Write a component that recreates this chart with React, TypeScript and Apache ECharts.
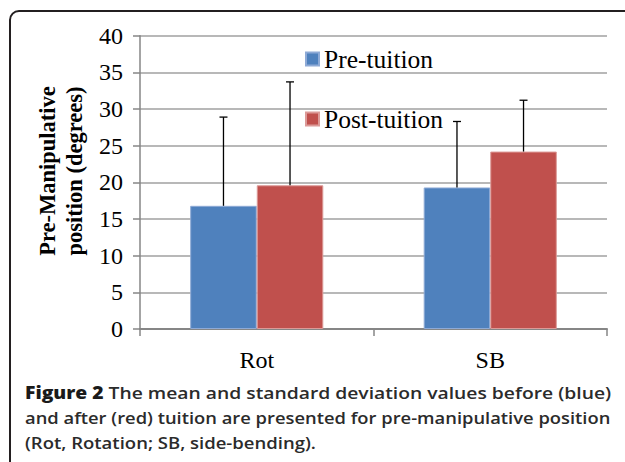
import React, { useEffect, useRef } from "react";
import * as echarts from "echarts";

const categories = ["Rot", "SB"];
const preMeans = [16.8, 19.3];
const preSD = [12.1, 9.0];
const postMeans = [19.6, 24.2];
const postSD = [14.1, 7.0];
const seriesNames = ["Pre-tuition", "Post-tuition"];
const yTitleLines = ["Pre-Manipulative", "position (degrees)"];
const captionLines = [
  "{b|Figure 2} The mean and standard deviation values before (blue)",
  "and after (red) tuition are presented for pre-manipulative position",
  "(Rot, Rotation; SB, side-bending).",
];

const BLUE = "#4f81bd";
const RED = "#c0504d";
const CAT_GAP = 0.43;
const CAPTION_STRETCH = [1.135, 1.08, 1.09];

function errorSeries(means: number[], sds: number[], side: number) {
  return {
    type: "custom",
    silent: true,
    z: 5,
    data: means.map((m, i) => [i, m, sds[i]]),
    encode: { x: 0, y: 1 },
    renderItem: (params: any, api: any) => {
      const i = api.value(0);
      const m = api.value(1);
      const s = api.value(2);
      const band = api.size([1, 0])[0];
      const off = (band * (1 - CAT_GAP)) / 4;
      const base = api.coord([i, m]);
      const top = api.coord([i, m + s]);
      const x = base[0] + side * off;
      const style = { stroke: "#000", lineWidth: 1.3 };
      return {
        type: "group",
        children: [
          { type: "line", shape: { x1: x, y1: base[1], x2: x, y2: top[1] }, style },
          { type: "line", shape: { x1: x - 4, y1: top[1], x2: x + 4, y2: top[1] }, style },
        ],
      };
    },
  };
}

export default function App() {
  const ref = useRef<HTMLDivElement>(null);
  useEffect(() => {
    if (!ref.current) return;
    const chart = echarts.init(ref.current, null, { renderer: "svg" });
    const serif = "Liberation Serif";
    const sans = "Open Sans";
    chart.setOption({
      animation: false,
      backgroundColor: "#fff",
      grid: { left: 140, right: 18, top: 35.7, bottom: 133 },
      legend: {
        orient: "vertical",
        left: 305,
        top: 46,
        padding: 0,
        itemWidth: 13,
        itemHeight: 13,
        itemGap: 34,
        icon: "rect",
        data: seriesNames,
        textStyle: { fontFamily: serif, fontSize: 25.5, color: "#000", lineHeight: 25 },
      },
      xAxis: {
        type: "category",
        data: categories,
        axisLine: { lineStyle: { color: "#868686", width: 2 } },
        axisTick: { show: true, length: 7, lineStyle: { color: "#868686", width: 1.5 } },
        axisLabel: { fontFamily: serif, fontSize: 24, color: "#000", margin: 19 },
      },
      yAxis: {
        type: "value",
        min: 0,
        max: 40,
        interval: 5,
        axisLine: { show: true, lineStyle: { color: "#868686", width: 1.5 } },
        axisTick: { show: true, length: 7, lineStyle: { color: "#868686", width: 1.5 } },
        axisLabel: { fontFamily: serif, fontSize: 24, color: "#000", margin: 17 },
        splitLine: { lineStyle: { color: "#a0a0a0", width: 1.5 } },
      },
      series: [
        {
          name: seriesNames[0],
          type: "bar",
          data: preMeans,
          barGap: "0%",
          barCategoryGap: CAT_GAP * 100 + "%",
          itemStyle: { color: BLUE, borderColor: "#8eaad6", borderWidth: 1 },
        },
        {
          name: seriesNames[1],
          type: "bar",
          data: postMeans,
          barGap: "0%",
          barCategoryGap: CAT_GAP * 100 + "%",
          itemStyle: { color: RED, borderColor: "#dc9a98", borderWidth: 1 },
        },
        errorSeries(preMeans, preSD, -1),
        errorSeries(postMeans, postSD, 1),
      ],
      graphic: [
        {
          type: "rect",
          shape: { x: 10, y: 11, width: 700, height: 600, r: [9, 0, 0, 0] },
          style: { fill: "none", stroke: "#231f20", lineWidth: 2 },
          silent: true,
        },
        ...yTitleLines.map((t, k) => ({
          type: "text",
          x: 47 + k * 27,
          y: 171,
          rotation: Math.PI / 2,
          style: {
            text: t,
            fontFamily: serif,
            fontWeight: "bold",
            fontSize: 22.5,
            fill: "#000",
            align: "center",
            verticalAlign: "middle",
          },
        })),
        ...captionLines.map((t, k) => ({
          type: "text",
          x: 25,
          y: 392 + k * 25,
          scaleX: CAPTION_STRETCH[k],
          style: {
            text: t,
            fontFamily: sans,
            fontWeight: 600,
            fontSize: 17,
            fill: "#2b2b2b",
            align: "left",
            verticalAlign: "middle",
            rich: {
              b: { fontFamily: sans, fontWeight: 800, fontSize: 17, fill: "#1a1a1a" },
            },
          },
        })),
      ],
    });
    return () => chart.dispose();
  }, []);
  return (
    <div
      ref={ref}
      style={{ position: "fixed", left: 0, top: 0, width: 625, height: 462 }}
    />
  );
}
